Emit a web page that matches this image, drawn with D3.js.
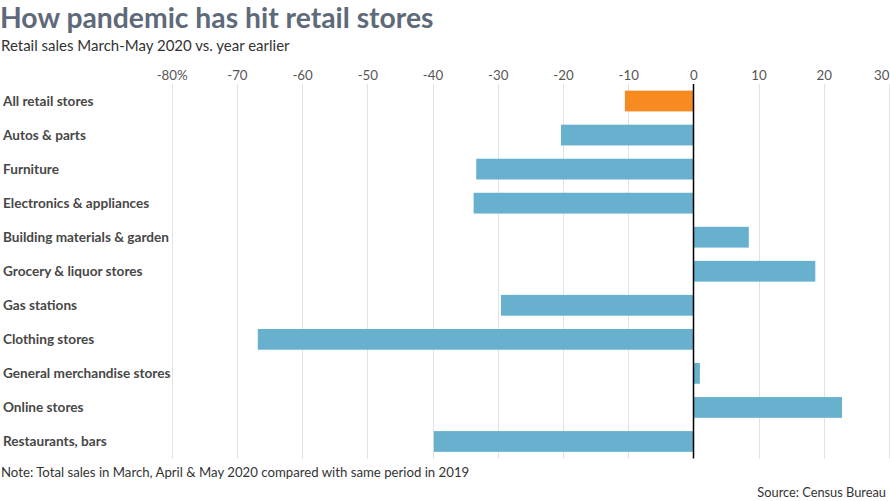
<!DOCTYPE html>
<html>
<head>
<meta charset="utf-8">
<script src="https://cdn.jsdelivr.net/npm/d3@7"></script>
<style>
  html, body { margin: 0; padding: 0; background: #fff; }
  svg { display: block; font-family: Lato, "Open Sans", sans-serif; }
</style>
</head>
<body>
<svg id="chart" width="890" height="501"></svg>
<script>
const categories = [
  "All retail stores",
  "Autos & parts",
  "Furniture",
  "Electronics & appliances",
  "Building materials & garden",
  "Grocery & liquor stores",
  "Gas stations",
  "Clothing stores",
  "General merchandise stores",
  "Online stores",
  "Restaurants, bars"
];
const values = [-10.5, -20.3, -33.3, -33.7, 8.5, 18.7, -29.5, -66.8, 1.0, 22.8, -39.8];
const tickValues = [-80, -70, -60, -50, -40, -30, -20, -10, 0, 10, 20, 30];
const tickLabels = ["-80%", "-70", "-60", "-50", "-40", "-30", "-20", "-10", "0", "10", "20", "30"];

const svg = d3.select("#chart");

const x = d3.scaleLinear().domain([-80, 30]).range([171.7, 889]);
const y = d3.scaleBand().domain(categories).range([84, 458.5])
  .paddingInner(0.39).paddingOuter(0.195);

// Title / subtitle
svg.append("text").attr("x", 0).attr("y", 28)
  .attr("font-size", 28.3).attr("font-weight", 700).attr("fill", "#5e6a7a")
  .text("How pandemic has hit retail stores");
svg.append("text").attr("x", 1).attr("y", 51)
  .attr("font-size", 15).attr("fill", "#333")
  .text("Retail sales March-May 2020 vs. year earlier");

// Gridlines
svg.append("g").selectAll("line").data(tickValues.filter(d => d !== 0)).join("line")
  .attr("x1", d => Math.round(x(d)) + 0.5).attr("x2", d => Math.round(x(d)) + 0.5)
  .attr("y1", 84).attr("y2", 458.5)
  .attr("stroke", "#e2e2e2").attr("stroke-width", 1);

// Top axis labels
const axis = d3.axisTop(x).tickValues(tickValues)
  .tickFormat((d, i) => tickLabels[i]).tickSize(0).tickPadding(0);
const gAxis = svg.append("g").attr("transform", "translate(0,80)").call(axis);
gAxis.select(".domain").remove();
gAxis.selectAll("text")
  .attr("font-family", "Lato, sans-serif").attr("font-size", 13.3).attr("fill", "#555")
  .attr("dy", 0)
  .attr("text-anchor", d => d === 30 ? "end" : "middle");

// Bars
svg.append("g").selectAll("rect").data(categories).join("rect")
  .attr("x", (d, i) => x(Math.min(0, values[i])))
  .attr("width", (d, i) => Math.abs(x(values[i]) - x(0)))
  .attr("y", d => y(d))
  .attr("height", y.bandwidth())
  .attr("fill", (d, i) => i === 0 ? "#f78a21" : "#67b1cf");

// Zero line
svg.append("line")
  .attr("x1", Math.round(x(0)) + 0.5).attr("x2", Math.round(x(0)) + 0.5)
  .attr("y1", 84).attr("y2", 458.5)
  .attr("stroke", "#000").attr("stroke-width", 1.5);

// Category labels
svg.append("g").selectAll("text").data(categories).join("text")
  .attr("x", 3).attr("y", d => y(d) + y.bandwidth() / 2)
  .attr("dy", "0.36em")
  .attr("font-size", 13.6).attr("font-weight", 700).attr("fill", "#474747")
  .text(d => d);

// Footer
svg.append("text").attr("x", 1).attr("y", 477)
  .attr("font-size", 13.2).attr("fill", "#333")
  .text("Note: Total sales in March, April & May 2020 compared with same period in 2019");
svg.append("text").attr("x", 886).attr("y", 497).attr("text-anchor", "end")
  .attr("font-size", 12.8).attr("fill", "#333")
  .text("Source: Census Bureau");
</script>
</body>
</html>
